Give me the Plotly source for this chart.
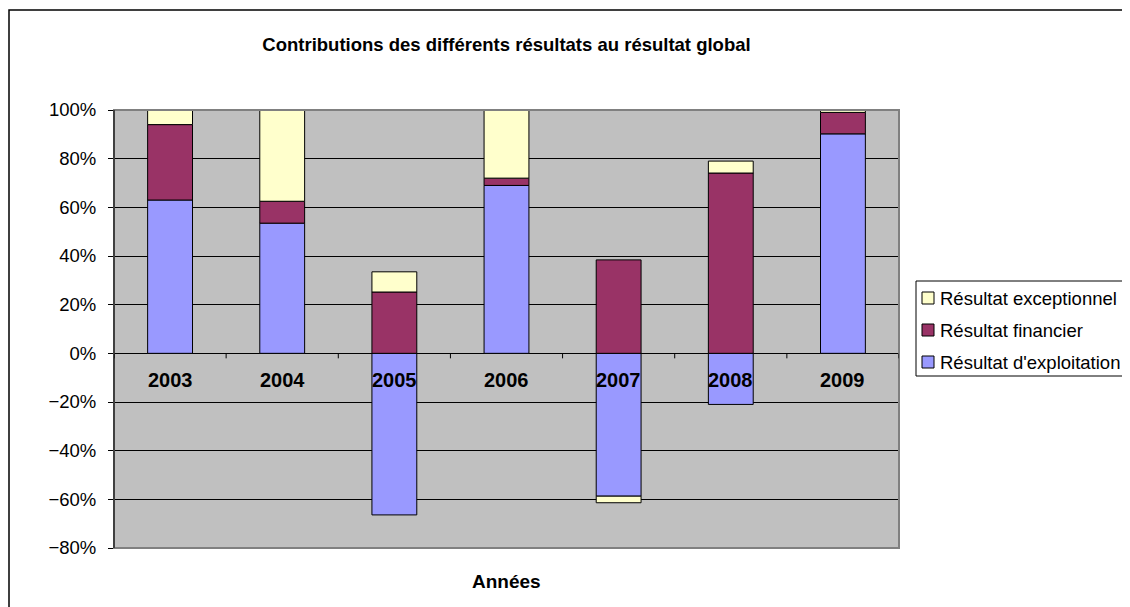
import plotly.graph_objects as go

years = ["2003", "2004", "2005", "2006", "2007", "2008", "2009"]
exploitation = [63.0, 53.5, -66.4, 69.0, -58.7, -21.0, 90.2]
financier = [31.0, 9.0, 25.2, 3.0, 38.4, 74.1, 8.8]
exceptionnel = [6.0, 37.5, 8.3, 28.0, -2.7, 4.9, 1.0]

names = ["Résultat d'exploitation", "Résultat financier", "Résultat exceptionnel"]
colors = ["#9999FF", "#993366", "#FFFFCC"]
series = [exploitation, financier, exceptionnel]

FONT = "Liberation Sans, Arial, sans-serif"

fig = go.Figure()
for n, c, s in zip(names, colors, series):
    fig.add_trace(go.Bar(x=years, y=s, name=n, width=0.4, showlegend=False,
                         marker=dict(color=c, line=dict(color="black", width=1))))

OFF = 8  # page body margin
W, H = 1130 - OFF, 607 - OFF
L, T = 114 - OFF, 110 - OFF
R = W - (899 - OFF)
B = H - (548 - OFF)
pw, ph = W - L - R, H - T - B

def px_x(p):
    return (p - OFF - L) / pw

def px_y(p):
    return (H - B - (p - OFF)) / ph

shapes = []
shapes.append(dict(type="rect", xref="paper", yref="paper",
                   x0=px_x(9), x1=px_x(1160), y0=px_y(620), y1=px_y(10),
                   line=dict(color="black", width=1.5), layer="below"))
shapes.append(dict(type="rect", xref="paper", yref="paper", x0=0, x1=1, y0=0, y1=1,
                   line=dict(color="#808080", width=2), layer="above"))
for i in range(len(years) + 1):
    shapes.append(dict(type="line", xref="x", yref="y", x0=i - 0.5, x1=i - 0.5,
                       ysizemode="pixel", yanchor=0, y0=0, y1=-5,
                       line=dict(color="black", width=1)))
shapes.append(dict(type="line", xref="paper", yref="paper", x0=0, x1=0, y0=0, y1=1,
                   line=dict(color="black", width=1), layer="above"))

annotations = [dict(x=i, y=0, xref="x", yref="y", text="<b>%s</b>" % y, showarrow=False,
                    yshift=-27, font=dict(family=FONT, size=20, color="black"))
               for i, y in enumerate(years)]
annotations.append(dict(x=0.5, y=px_y(581), xref="paper", yref="paper",
                        text="<b>Années</b>", showarrow=False, yanchor="middle",
                        font=dict(family=FONT, size=19, color="black")))

# legend (drawn as box + swatches + text, reversed order like Excel)
shapes.append(dict(type="rect", xref="paper", yref="paper",
                   x0=px_x(916), x1=px_x(1150), y0=px_y(376), y1=px_y(281),
                   line=dict(color="black", width=1), fillcolor="white"))
row_y = [298, 330, 362]
for k, idx in enumerate([2, 1, 0]):
    yc = row_y[k]
    shapes.append(dict(type="rect", xref="paper", yref="paper",
                       x0=px_x(922), x1=px_x(934), y0=px_y(yc + 6), y1=px_y(yc - 6),
                       line=dict(color="black", width=1), fillcolor=colors[idx]))
    annotations.append(dict(x=px_x(938), y=px_y(yc), xref="paper", yref="paper",
                            text=names[idx], showarrow=False, xanchor="left",
                            yanchor="middle",
                            font=dict(family=FONT, size=18.5, color="black")))

fig.update_layout(
    width=W, height=H,
    margin=dict(l=L, r=R, t=T, b=B),
    paper_bgcolor="white",
    plot_bgcolor="#C0C0C0",
    barmode="relative",
    showlegend=False,
    title=dict(text="<b>Contributions des différents résultats au résultat global</b>",
               x=0.5, xref="paper", xanchor="center", y=1 - (45 - OFF) / H, yanchor="middle",
               font=dict(family=FONT, size=18.5, color="black")),
    font=dict(family=FONT, size=18, color="black"),
    xaxis=dict(type="category", range=[-0.5, 6.5], showticklabels=False, showgrid=False,
               zeroline=False, ticks=""),
    yaxis=dict(range=[-80, 100], dtick=20, ticksuffix="%", showgrid=True,
               gridcolor="black", gridwidth=1, zeroline=True, zerolinecolor="black",
               zerolinewidth=1, ticks="outside", ticklen=5, tickcolor="black",
               ticklabelstandoff=8,
               tickfont=dict(family=FONT, size=18.5), showline=False),
    shapes=shapes,
    annotations=annotations,
)

fig.write_html("out.html")
